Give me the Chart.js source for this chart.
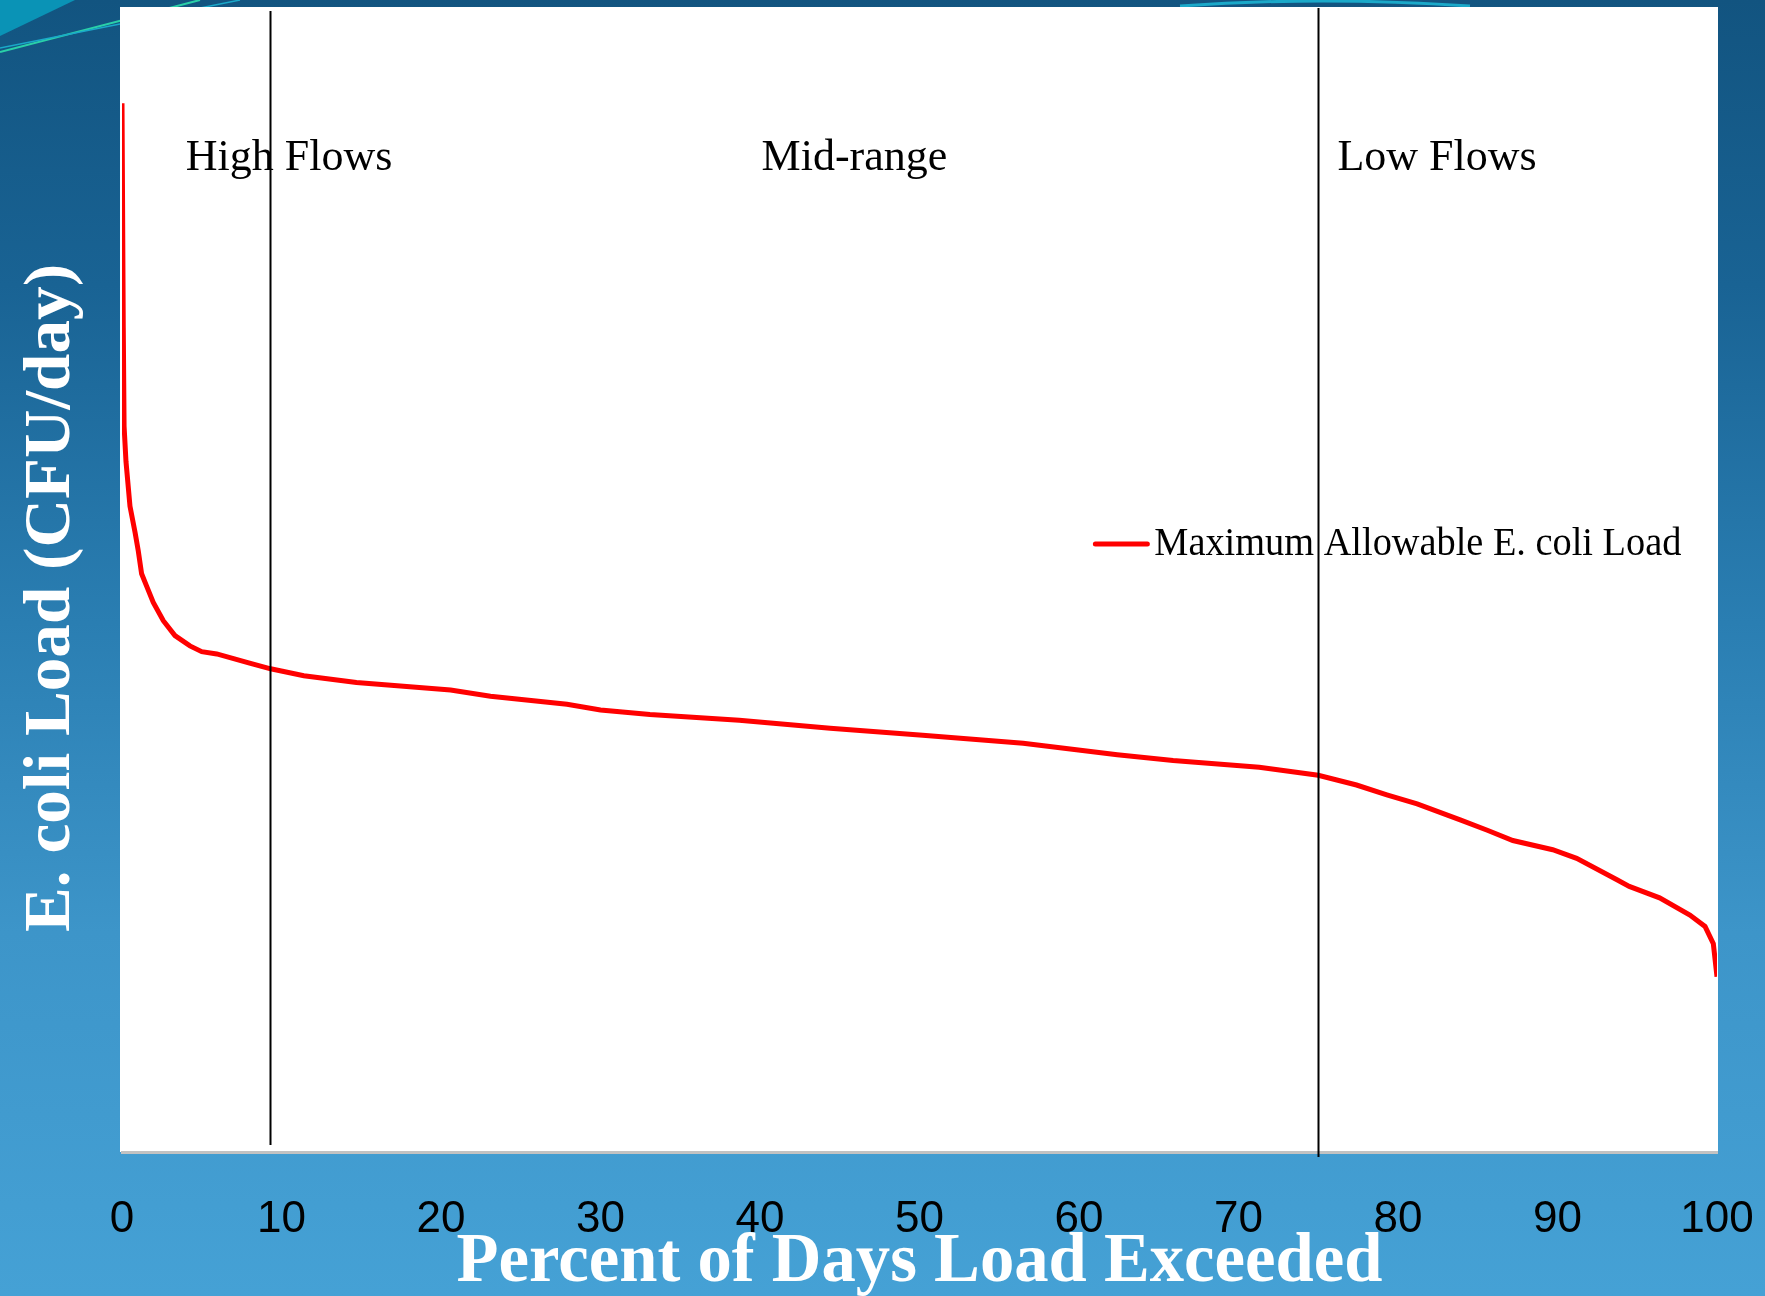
<!DOCTYPE html>
<html>
<head>
<meta charset="utf-8">
<title>Load Duration Curve</title>
<script src="https://cdn.jsdelivr.net/npm/chart.js@4.4.1/dist/chart.umd.min.js"></script>
<style>
  html, body {
    margin: 0;
    padding: 0;
  }
  body {
    width: 1765px;
    height: 1296px;
    position: relative;
    overflow: hidden;
    background: linear-gradient(180deg, #125480 0%, #196394 22%, #2a7eb2 48%, #3d95c9 72%, #45a1d5 100%);
  }
  #deco {
    position: absolute;
    left: 0;
    top: 0;
  }
  #chartBox {
    position: absolute;
    left: 0;
    top: 0;
    width: 1765px;
    height: 1296px;
  }
</style>
</head>
<body>
<svg id="deco" width="1765" height="60">
  <polygon points="0,0 75,0 0,36" fill="#0a93b6" />
  <line x1="0" y1="52" x2="200" y2="0" stroke="#2ad0a8" stroke-width="2" />
  <line x1="0" y1="48" x2="240" y2="0" stroke="#1aa9c9" stroke-width="1.5" />
  <path d="M1180,6 Q1320,-4 1470,6" stroke="#1aa9c9" stroke-width="3" fill="none" />
</svg>
<div id="chartBox">
  <canvas id="ldcChart" width="1765" height="1296"></canvas>
</div>
<script>
  // Percent of days load exceeded (x) and relative E. coli load (y, unlabeled axis)
  const pctExceeded = [0, 0.08, 0.13, 0.25, 0.5, 0.82, 1.02, 1.23, 1.55, 1.96, 2.59, 3.32, 4.26, 5.0, 5.94,
    8.0, 9.32, 11.4, 14.7, 20.6, 23.1, 27.9, 30.0, 33.1, 38.7, 44.4, 50.2, 56.5, 62.4, 65.9, 71.3,
    75.0, 77.4, 79.3, 81.2, 83.9, 85.6, 87.2, 89.7, 91.2, 93.7, 94.5, 96.4, 98.3, 99.25, 99.77, 100];
  const maxAllowableLoad = [91.6, 72, 63.4, 60.3, 56.4, 54.1, 52.5, 50.5, 49.4, 48.0, 46.4, 45.1, 44.2, 43.7, 43.5,
    42.7, 42.2, 41.6, 41.0, 40.35, 39.8, 39.1, 38.6, 38.2, 37.7, 37.0, 36.4, 35.7, 34.7, 34.2, 33.6,
    32.9, 32.05, 31.2, 30.4, 29.0, 28.1, 27.2, 26.4, 25.65, 23.8, 23.2, 22.2, 20.7, 19.7, 18.2, 15.3];

  const xTicks = [0, 10, 20, 30, 40, 50, 60, 70, 80, 90, 100];

  // flow regime boundaries and labels
  const zoneBounds = [9.3, 75];
  const zoneNames = ["High Flows", "Mid-range", "Low Flows"];
  const zoneLabelX = [4, 40.1, 76.2];

  const seriesLabel = "Maximum Allowable E. coli Load";
  const xTitle = "Percent of Days Load Exceeded";
  const yTitle = "E. coli Load (CFU/day)";

  const serif = "'Liberation Serif', 'DejaVu Serif', serif";

  // draws one line of text squeezed / stretched to a target width
  function fitText(ctx, text, x, y, targetWidth) {
    const w = ctx.measureText(text).width;
    const s = targetWidth / w;
    ctx.save();
    ctx.translate(x, y);
    ctx.scale(s, 1);
    ctx.fillText(text, 0, 0);
    ctx.restore();
  }

  const ldcDecor = {
    id: "ldcDecor",
    beforeDraw(chart) {
      const { ctx, chartArea } = chart;
      ctx.save();
      ctx.fillStyle = "#ffffff";
      ctx.fillRect(chartArea.left - 2, chartArea.top, chartArea.right - chartArea.left + 3, chartArea.bottom - chartArea.top);
      ctx.restore();
    },
    afterDatasetsDraw(chart) {
      const { ctx, chartArea, scales } = chart;
      const x = scales.x;
      ctx.save();

      // regime boundary lines
      ctx.strokeStyle = "#000000";
      ctx.lineWidth = 2;
      const ends = [[chartArea.top + 4, chartArea.bottom - 7], [chartArea.top + 1, chartArea.bottom + 5]];
      zoneBounds.forEach((b, i) => {
        const px = Math.round(x.getPixelForValue(b)) + 0.5;
        ctx.beginPath();
        ctx.moveTo(px, ends[i][0]);
        ctx.lineTo(px, ends[i][1]);
        ctx.stroke();
      });

      // regime labels
      ctx.fillStyle = "#000000";
      ctx.font = "44px " + serif;
      ctx.textAlign = "left";
      ctx.textBaseline = "alphabetic";
      zoneNames.forEach((name, i) => {
        ctx.fillText(name, x.getPixelForValue(zoneLabelX[i]), chartArea.top + 163);
      });

      // legend inside the plot
      const ds = chart.data.datasets[0];
      const lx = chartArea.left + 0.609 * (chartArea.right - chartArea.left);
      const ly = chartArea.top + 537;
      ctx.strokeStyle = ds.borderColor;
      ctx.lineWidth = 5;
      ctx.lineCap = "round";
      ctx.beginPath();
      ctx.moveTo(lx + 2, ly);
      ctx.lineTo(lx + 54, ly);
      ctx.stroke();
      ctx.font = "39px " + serif;
      fitText(ctx, ds.label, lx + 61, ly + 11, 527);

      ctx.restore();
    },
    afterDraw(chart) {
      const { ctx, chartArea } = chart;
      ctx.save();
      ctx.fillStyle = "#ffffff";
      ctx.textAlign = "center";
      ctx.textBaseline = "alphabetic";

      // x axis title
      ctx.font = "bold 70px " + serif;
      fitText(ctx, xTitle, (chartArea.left + chartArea.right) / 2, 1281, 926);

      // y axis title
      ctx.font = "bold 66px " + serif;
      ctx.translate(69, 598);
      ctx.rotate(-Math.PI / 2);
      fitText(ctx, yTitle, 0, 0, 668);
      ctx.restore();
    }
  };

  document.addEventListener("DOMContentLoaded", () => {
    const ctx = document.getElementById("ldcChart");

    new Chart(ctx, {
      type: "line",
      data: {
        datasets: [
          {
            label: seriesLabel,
            data: pctExceeded.map((p, i) => ({ x: p, y: maxAllowableLoad[i] })),
            borderColor: "#ff0000",
            backgroundColor: "#ff0000",
            borderWidth: 5,
            pointRadius: 0,
            tension: 0,
            fill: false,
          },
        ],
      },
      options: {
        responsive: false,
        animation: false,
        layout: {
          padding: { left: 122, right: 48, top: 7, bottom: 0 },
        },
        plugins: {
          legend: { display: false },
          tooltip: { enabled: false },
        },
        scales: {
          x: {
            type: "linear",
            min: 0,
            max: 100,
            afterBuildTicks: (scale) => {
              scale.ticks = xTicks.map((v) => ({ value: v }));
            },
            afterFit: (scale) => {
              scale.height = 144;
              scale.paddingLeft = 0;
              scale.paddingRight = 0;
            },
            grid: { display: false, drawTicks: false },
            border: { display: true, color: "#c2c2c2", width: 3 },
            ticks: {
              color: "#000000",
              padding: 41,
              maxRotation: 0,
              font: { family: "'Liberation Sans Narrow', 'Liberation Sans', 'DejaVu Sans', sans-serif", size: 44 },
            },
          },
          y: {
            display: false,
            min: 0,
            max: 100,
          },
        },
      },
      plugins: [ldcDecor],
    });
  });
</script>
</body>
</html>
